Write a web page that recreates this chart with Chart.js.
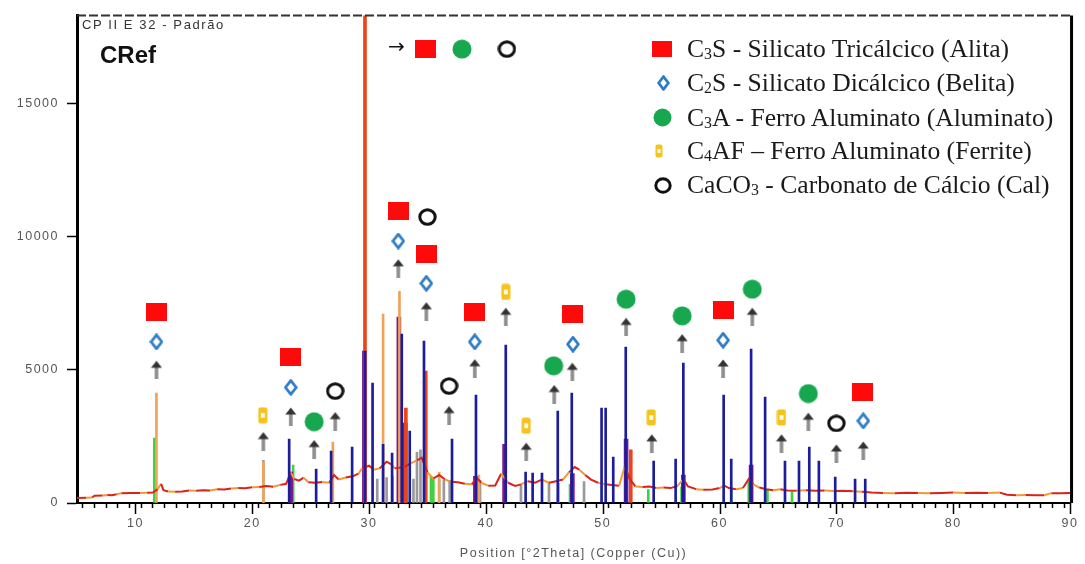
<!DOCTYPE html>
<html lang="pt">
<head>
<meta charset="utf-8">
<title>DRX - CRef</title>
<script src="https://cdn.jsdelivr.net/npm/chart.js@4.4.1/dist/chart.umd.min.js"></script>
<style>
body{margin:0;background:#fff;}
#wrap{position:relative;width:1085px;height:564px;overflow:hidden;}
#xrd{position:absolute;left:0;top:0;}
.lbl{position:absolute;white-space:nowrap;}
#sample{left:82px;top:18px;font:13px/13px "Liberation Sans",Arial,sans-serif;letter-spacing:1.6px;color:#333;}
#cref{left:100px;top:43px;font:bold 24px/24px "Liberation Sans",Arial,sans-serif;color:#111;}
#tagArrow{left:388px;top:36px;font:20px/20px "DejaVu Sans",sans-serif;color:#111;}
.row{position:absolute;left:687px;height:34px;font:25.6px/34px "Liberation Serif","Times New Roman",serif;color:#1a1a1a;white-space:nowrap;}
.row sub{font-size:0.62em;vertical-align:-0.12em;line-height:0;}
.row canvas{position:absolute;}
</style>
</head>
<body>
<div id="wrap">
<canvas id="xrd" width="1085" height="564"></canvas>
<div class="lbl" id="sample">CP II E 32 - Padrão</div>
<div class="lbl" id="cref">CRef</div>
<div class="lbl" id="tagArrow">→</div>
<div id="legend"></div>
</div>
<script>
// measured scan (background profile), °2θ / counts
const profileTheta = [5.0,5.8,6.3,6.5,7.2,7.6,8.0,8.4,8.8,9.6,10.4,11.0,11.5,11.9,12.2,12.4,12.8,13.4,14.0,14.6,15.2,15.8,16.4,17.0,17.6,18.2,18.8,19.4,20.0,20.6,21.2,21.8,22.4,22.9,23.3,23.6,24.0,24.4,24.8,25.4,26.0,26.6,27.0,27.4,28.0,28.6,29.1,29.4,30.0,30.4,30.9,31.5,31.9,32.2,33.0,33.6,34.1,34.5,35.0,35.5,36.0,36.5,37.0,37.6,38.2,38.8,39.2,39.6,40.2,40.8,41.3,41.9,42.5,43.0,43.6,44.2,44.8,45.4,46.0,46.6,47.1,47.6,48.0,48.5,49.0,49.6,50.2,50.8,51.4,51.9,52.3,52.8,53.4,54.0,54.6,55.2,55.8,56.4,56.9,57.3,58.0,58.6,59.4,60.0,60.4,60.8,61.4,62.0,62.5,62.9,63.4,64.0,64.6,65.2,65.8,66.6,67.4,68.2,69.0,69.8,70.6,71.4,72.2,73.0,74.0,75.0,76.0,77.0,78.0,79.0,80.0,81.0,82.0,83.0,84.0,84.6,85.4,86.2,87.0,87.8,88.4,89.2,90.0];
const profileCounts = [190,200,205,270,280,300,290,330,370,375,380,385,390,520,720,480,430,420,430,470,460,480,470,520,510,540,560,550,590,600,640,610,680,720,1150,900,840,950,780,760,790,760,1050,880,960,1000,1100,1300,1400,1250,1300,1550,1450,1300,1350,1500,1600,1700,1150,920,1050,880,800,780,720,700,950,760,650,660,1100,760,640,700,820,760,880,760,820,880,1150,1350,1250,1050,880,760,700,680,650,1400,900,620,600,620,560,580,560,640,900,620,520,500,510,560,650,560,520,560,900,700,580,520,480,520,470,460,480,460,470,450,460,440,420,390,380,370,385,375,370,380,390,375,385,380,390,310,290,300,290,290,370,370,380];

// strong reflections of the scan
const peakTheta = [11.8,20.95,26.9,31.2,32.6,36.0,39.4];
const peakCounts = [4125,1550,2290,7090,7950,1150,1050];
const mainPeakTheta = [29.65,33.15,34.85,52.4];
const mainPeakCounts = [19000,3560,4950,2000];

// reference patterns (stick lines)
const blueTheta = [23.16,25.47,26.75,28.55,29.65,30.3,31.2,31.97,32.8,33.48,34.7,37.1,39.15,41.7,43.4,44.0,44.8,46.15,47.35,49.9,50.25,50.9,51.97,54.36,56.24,56.9,60.35,61.0,62.7,63.9,65.6,66.8,67.68,68.5,69.9,71.6,72.47];
const blueCounts = [2400,1275,1950,2100,5700,4500,2200,1875,6340,2700,6075,2400,4050,5925,1160,1125,1125,3450,4125,3560,3560,1725,5850,1575,1650,5250,4050,1650,5775,3975,1575,1575,2100,1575,975,900,900];
const purpleTheta = [23.3,29.6,32.55,33.1,39.1,41.6,47.4,52.0,56.9,62.7];
const purpleCounts = [1160,5700,6975,3000,1000,2200,1100,2400,1050,1425];
const grayTheta = [20.95,30.7,31.5,32.0,33.0,33.8,34.1,34.4,36.0,36.4,36.9,39.5,43.0,45.4,46.2,48.4];
const grayCounts = [1600,900,950,1000,950,900,1900,2000,850,850,850,850,700,750,750,800];
const greenTheta = [11.62,23.5,35.3,35.5,47.2,53.9,56.75,61.0,62.5,64.1,66.2];
const greenCounts = [2440,1420,1000,900,700,500,600,520,800,480,420];

// phase identification marks
const arrowTheta = [11.8,20.95,23.3,25.3,27.1,32.5,34.9,36.85,39.05,41.7,43.45,45.85,47.4,52.0,54.2,56.8,60.3,62.8,65.3,67.6,70.0,72.3];
const arrowCounts = [5000,2325,3245,2025,3075,8810,7200,3300,5060,6990,1925,4090,4925,6610,2240,6000,5050,6990,2240,3050,1860,1970];
const c3sTheta = [11.8,23.3,32.5,34.9,39.05,47.45,60.3,72.25];
const c3sCounts = [7180,5475,10950,9360,7175,7110,7260,4175];
const c2sTheta = [11.8,23.3,32.5,34.9,39.05,47.45,60.3,72.3];
const c2sCounts = [6050,4340,9835,8245,6050,5960,6110,3085];
const c3aTheta = [25.3,45.8,52.0,56.8,62.8,67.6];
const c3aCounts = [3050,5150,7650,7025,8025,4110];
const c4afTheta = [20.9,41.7,43.45,54.15,65.3];
const c4afCounts = [3290,7925,2900,3210,3210];
const caco3Theta = [27.1,35.0,36.85,70.0];
const caco3Counts = [4200,10735,4390,2990];
// phases tagged on the 29.6° reflection (drawn at the top)
const topTagTheta = [34.8,37.95,41.8];
const topTagCounts = [17040,17040,17040];
const topTagPhase = ['c3s','c3a','caco3'];

const yTicks = [0,5000,10000,15000];
const xTitle = 'Position [°2Theta] (Copper (Cu))';

const legendPhases = ['c3s','c2s','c3a','c4af','caco3'];
const legendLabels = [
  'C<sub>3</sub>S - Silicato Tricálcico (Alita)',
  'C<sub>2</sub>S - Silicato Dicálcico (Belita)',
  'C<sub>3</sub>A - Ferro Aluminato (Aluminato)',
  'C<sub>4</sub>AF – Ferro Aluminato (Ferrite)',
  'CaCO<sub>3</sub> - Carbonato de Cálcio (Cal)'
];

function makeMarker(kind, w, h){
  const c = document.createElement('canvas');
  c.width = w; c.height = h;
  const g = c.getContext('2d');
  if(kind==='c3s'){
    g.fillStyle = '#ff0a0a';
    g.fillRect(0,0,w,h);
  } else if(kind==='c2s'){
    g.beginPath();
    g.moveTo(w/2,1.6); g.lineTo(w-1.6,h/2); g.lineTo(w/2,h-1.6); g.lineTo(1.6,h/2);
    g.closePath();
    g.fillStyle = '#fff'; g.fill();
    g.lineWidth = 2.8; g.lineJoin = 'round'; g.strokeStyle = '#2f7cc4'; g.stroke();
  } else if(kind==='c3a'){
    g.fillStyle = '#17a84f';
    g.beginPath(); g.arc(w/2,h/2,w/2-0.5,0,Math.PI*2); g.fill();
  } else if(kind==='c4af'){
    g.fillStyle = '#f6c21c';
    g.beginPath(); g.roundRect(0.5,0.5,w-1,h-1,2); g.fill();
    g.fillStyle = '#fffbe8';
    g.fillRect(w*0.3,h*0.36,w*0.4,h*0.28);
  } else if(kind==='caco3'){
    g.lineWidth = 3; g.strokeStyle = '#111';
    g.beginPath(); g.ellipse(w/2,h/2,w/2-1.8,h/2-1.8,0,0,Math.PI*2); g.stroke();
  } else if(kind==='arrow'){
    g.fillStyle = '#8e8e8e';
    g.fillRect(w/2-1.8,6,3.6,h-6);
    g.fillStyle = '#333';
    g.beginPath(); g.moveTo(w/2,0.5); g.lineTo(w-0.5,7.5); g.lineTo(0.5,7.5); g.closePath(); g.fill();
  }
  return c;
}

const chartMarks = {
  c3s: makeMarker('c3s',21,18),
  c2s: makeMarker('c2s',14,17),
  c3a: makeMarker('c3a',20,20),
  c4af: makeMarker('c4af',10,17),
  caco3: makeMarker('caco3',19,18),
  arrow: makeMarker('arrow',12,19)
};

function pts(xs, ys){
  return xs.map((x,i) => ({x:x, y:ys[i]}));
}

function sticks(xs, ys, color, width, order){
  return {type:'bar', data:pts(xs,ys), backgroundColor:color, barThickness:width, grouped:false, order:order};
}

function marks(xs, ys, style, order){
  return {type:'line', data:pts(xs,ys), showLine:false, pointStyle:style, pointRadius:10, order:order};
}

// axis details: long ticks every 10°, right edge and dashed top edge
const framePlugin = {
  id:'frame',
  beforeDraw(chart){
    chart.ctx.letterSpacing = '1.5px';
  },
  afterDraw(chart){
    const {ctx, chartArea:a, scales:{x}} = chart;
    ctx.save();
    ctx.strokeStyle = '#000';
    ctx.lineWidth = 1.5;
    x.ticks.filter(t => t.value % 10 === 0).forEach(t => {
      const px = Math.round(x.getPixelForValue(t.value)) + 0.5;
      ctx.beginPath(); ctx.moveTo(px,a.bottom); ctx.lineTo(px,a.bottom+11); ctx.stroke();
    });
    ctx.lineWidth = 3;
    ctx.beginPath(); ctx.moveTo(a.right+1.5,a.top); ctx.lineTo(a.right+1.5,a.bottom); ctx.stroke();
    ctx.strokeStyle = '#333';
    ctx.lineWidth = 2;
    ctx.setLineDash([9,3]);
    ctx.beginPath(); ctx.moveTo(a.left,a.top); ctx.lineTo(a.right,a.top); ctx.stroke();
    ctx.restore();
  }
};

const tickFont = {family:'"Liberation Sans", Arial, sans-serif', size:12.5};

new Chart(document.getElementById('xrd'), {
  type:'line',
  data:{
    datasets:[
      marks(arrowTheta, arrowCounts, chartMarks.arrow, 0),
      marks(c3sTheta, c3sCounts, chartMarks.c3s, 0),
      marks(c2sTheta, c2sCounts, chartMarks.c2s, 0),
      marks(c3aTheta, c3aCounts, chartMarks.c3a, 0),
      marks(c4afTheta, c4afCounts, chartMarks.c4af, 0),
      marks(caco3Theta, caco3Counts, chartMarks.caco3, 0),
      marks(topTagTheta, topTagCounts, topTagPhase.map(k => chartMarks[k]), 0),
      sticks(blueTheta, blueCounts, '#1c1c9c', 2, 1),
      {
        type:'line', data:pts(profileTheta, profileCounts), order:2,
        borderWidth:2, pointRadius:0, tension:0,
        borderColor:'#d8231b',
        segment:{borderColor: c => (c.p0DataIndex % 3 === 1 ? '#f39a2e' : '#d8231b')}
      },
      sticks(mainPeakTheta, mainPeakCounts, '#ec4318', 3, 3),
      sticks(peakTheta, peakCounts, '#f0a25a', 2, 3),
      sticks(purpleTheta, purpleCounts, '#7a1a8c', 4, 4),
      sticks(greenTheta, greenCounts, '#3ed23e', 2, 5),
      sticks(grayTheta, grayCounts, '#9a9a9a', 2, 6)
    ]
  },
  options:{
    responsive:false,
    animation:false,
    events:[],
    layout:{padding:{top:15, right:13, left:0, bottom:0}},
    plugins:{legend:{display:false}, tooltip:{enabled:false}},
    scales:{
      x:{
        type:'linear', min:5, max:90, offset:false,
        ticks:{stepSize:1, autoSkip:false, maxTicksLimit:100, maxRotation:0, padding:8,
          color:'#555', font:tickFont,
          callback: v => (v % 10 === 0 ? String(v) : '')},
        grid:{drawOnChartArea:false, tickLength:5, tickWidth:1.5, tickColor:'#000'},
        border:{color:'#000', width:2},
        title:{display:true, text:xTitle, color:'#555', font:tickFont, padding:{top:0, bottom:3}},
        afterFit: s => { s.height = 61; }
      },
      y:{
        min:0, max:18300,
        afterBuildTicks: s => { s.ticks = yTicks.map(v => ({value:v})); },
        ticks:{padding:8, color:'#555', font:tickFont, callback: v => String(v)},
        grid:{drawOnChartArea:false, tickLength:10, tickWidth:1.5, tickColor:'#000'},
        border:{color:'#000', width:3},
        afterFit: s => { s.width = 77; }
      }
    }
  },
  plugins:[framePlugin]
});

// phase key in the upper right corner
const legendRowY = [48.5, 82.6, 117.5, 151, 185];
const legendSymbolX = [662, 663, 662, 659, 663];
const legendSizes = {c3s:[20,16], c2s:[13,16], c3a:[19,19], c4af:[8,14], caco3:[18,17]};
const legend = document.getElementById('legend');
legendPhases.forEach((k,i) => {
  const row = document.createElement('div');
  row.className = 'row';
  const top = legendRowY[i] - 17;
  row.style.top = top + 'px';
  row.innerHTML = legendLabels[i];
  const [w,h] = legendSizes[k];
  const sym = makeMarker(k, w, h);
  sym.style.left = (legendSymbolX[i] - 687 - w/2) + 'px';
  sym.style.top = (legendRowY[i] - top - h/2) + 'px';
  row.appendChild(sym);
  legend.appendChild(row);
});
</script>
</body>
</html>
